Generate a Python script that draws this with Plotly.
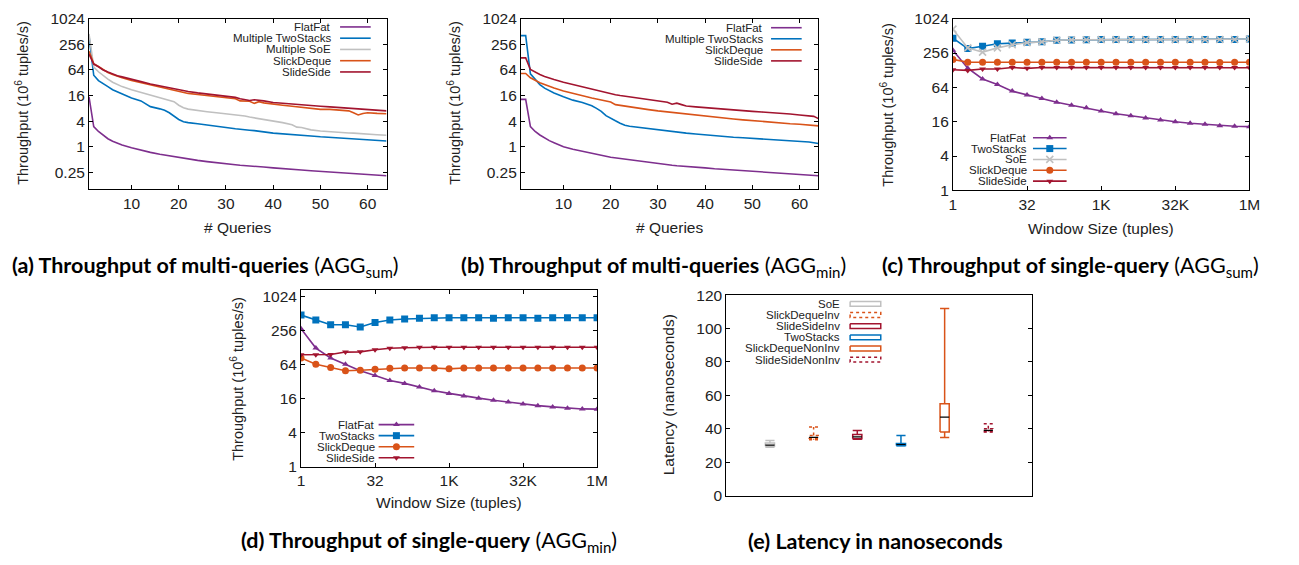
import math
import plotly.graph_objects as go

W, H = 1299, 565

# ---------------- data ----------------
# (a) multi-query throughput, AGG_sum (10^6 tuples/s) vs number of queries
qa = [1, 2, 3, 4, 5, 6, 7, 8, 10, 12, 14, 16, 17, 18, 19, 20, 21, 22, 24, 26, 28, 30, 32, 33, 34, 35,
      36, 37, 38, 40, 42, 44, 45, 46, 48, 50, 52, 54, 56, 57, 58, 59, 60, 62, 64]
a_flatfat = [15, 3.0, 2.3, 1.85, 1.55, 1.35, 1.2, 1.1, 0.95, 0.83, 0.74, 0.67, 0.64, 0.61, 0.58, 0.56, 0.54,
             0.52, 0.48, 0.45, 0.42, 0.40, 0.38, 0.37, 0.36, 0.355, 0.35, 0.34, 0.335, 0.32, 0.305, 0.295,
             0.29, 0.285, 0.275, 0.265, 0.255, 0.247, 0.24, 0.236, 0.232, 0.228, 0.225, 0.218, 0.21]
a_twostacks = [400, 48, 36, 30, 26, 22, 19.5, 17.5, 14, 12, 8.8, 7.8, 7.2, 6.3, 5.3, 4.4, 3.9, 3.7, 3.5,
               3.3, 3.05, 2.85, 2.65, 2.55, 2.5, 2.45, 2.4, 2.35, 2.25, 2.1, 2.0, 1.93, 1.9, 1.86, 1.8,
               1.72, 1.66, 1.6, 1.56, 1.53, 1.5, 1.48, 1.46, 1.41, 1.37]
a_soe = [450, 75, 58, 47, 39, 33, 29, 26, 22, 19, 16.5, 14.5, 13.5, 12.5, 11.5, 9.5, 8.3, 7.7, 7.1, 6.7,
         6.3, 6.0, 5.7, 5.5, 5.3, 5.0, 4.8, 4.5, 4.3, 4.0, 3.7, 3.3, 2.9, 2.85, 2.5, 2.35, 2.25, 2.2,
         2.12, 2.1, 2.05, 2.03, 2.0, 1.93, 1.87]
a_slickdeque = [175, 90, 77, 65, 56, 50, 45, 42, 36, 32, 28, 25, 24, 22.5, 21, 19.5, 19, 18, 17, 16, 15,
                14, 13.5, 12, 11.8, 11.8, 10.5, 11.5, 10.8, 10, 9.5, 9.0, 8.8, 8.5, 8.2, 7.6, 7.6, 7.3,
                7.0, 6.3, 5.6, 6.1, 6.3, 6.1, 6.0]
a_slideside = [150, 88, 76, 64, 57, 51, 47, 44, 38, 34, 30, 27, 26, 24.5, 23, 21.5, 20.5, 20, 18.5, 17.5,
               16.5, 15.5, 14.5, 13.5, 13, 12.3, 12.8, 12.5, 12, 11, 10.5, 10, 9.8, 9.6, 9.3, 9.0, 8.7,
               8.4, 8.2, 8.0, 7.8, 7.6, 7.4, 7.2, 7.0]

# (b) multi-query throughput, AGG_min
qb = [1, 2, 3, 4, 5, 6, 7, 8, 10, 12, 14, 16, 17, 18, 19, 20, 21, 22, 23, 24, 26, 28, 30, 32, 33, 34, 35,
      36, 38, 40, 42, 44, 46, 48, 50, 52, 54, 56, 58, 60, 62, 63, 64]
b_flatfat = [13, 13, 3.0, 2.3, 1.9, 1.6, 1.4, 1.25, 1.0, 0.88, 0.78, 0.7, 0.67, 0.63, 0.6, 0.57, 0.55,
             0.53, 0.51, 0.49, 0.46, 0.43, 0.40, 0.38, 0.37, 0.36, 0.355, 0.35, 0.335, 0.32, 0.305,
             0.295, 0.285, 0.275, 0.265, 0.255, 0.247, 0.24, 0.232, 0.225, 0.218, 0.214, 0.21]
b_twostacks = [410, 410, 52, 38, 29, 24, 21, 18.5, 15, 12.5, 11, 9.2, 8, 6.8, 5.4, 4.6, 4.1, 3.6, 3.2,
               3.05, 2.85, 2.7, 2.55, 2.4, 2.25, 2.2, 2.15, 2.1, 2.0, 1.9, 1.82, 1.75, 1.68, 1.63, 1.58,
               1.53, 1.49, 1.45, 1.41, 1.37, 1.3, 1.25, 1.2]
b_slickdeque = [53, 53, 42, 36, 32, 29, 26, 24, 20.5, 18, 15.5, 14, 13.3, 12.5, 12, 11.3, 9.8, 9.4, 9.0,
                8.7, 8.1, 7.5, 7.0, 6.6, 6.4, 6.2, 6.0, 5.8, 5.5, 5.2, 4.9, 4.7, 4.5, 4.3, 4.1, 3.95,
                3.8, 3.65, 3.5, 3.4, 3.3, 3.2, 3.1]
b_slideside = [123, 123, 66, 57, 50, 45, 41, 38, 33, 29, 26, 22.5, 21.5, 20, 19, 17.5, 16.8, 16, 15.5, 15,
               14, 13, 12, 11.2, 10, 10.6, 9.8, 9.1, 8.7, 8.3, 8.0, 7.7, 7.4, 7.1, 6.8, 6.6, 6.4, 6.2,
               5.9, 5.6, 5.4, 5.2, 4.6]

# (c)/(d) single-query throughput vs window size (tuples)
window = [2 ** k for k in range(21)]
c_flatfat = [287, 139, 90, 72, 55, 47, 41, 35, 31, 28, 24.7, 22, 20.3, 18.5, 17.1, 16, 15, 14.4, 13.6, 13.3, 13.1]
c_twostacks = [466, 306, 336, 373, 382, 395, 402, 430, 435, 438, 440, 440, 440, 440, 440, 440, 440, 440, 442, 442, 450]
c_soe = [671, 315, 266, 315, 357, 390, 402, 428, 435, 438, 440, 440, 440, 440, 440, 440, 440, 440, 442, 442, 450]
c_slickdeque = [198, 176, 176, 176, 176, 176, 176, 176, 176, 176, 176, 176, 176, 176, 176, 176, 176, 176, 175, 176, 176]
c_slideside = [130, 127, 134, 134, 143, 138, 143, 143, 143, 143, 143, 143, 143, 143, 143, 143, 143, 143, 143, 143, 141]

d_flatfat = [278, 126, 84, 65, 50, 41, 33.5, 29.8, 25.8, 22, 19.8, 17.8, 16.3, 15, 13.9, 12.8, 12, 11.4, 10.8, 10.5, 10.4]
d_twostacks = [484, 397, 326, 326, 298, 357, 397, 413, 424, 436, 436, 436, 436, 424, 436, 436, 424, 436, 436, 436, 436]
d_slickdeque = [84, 65, 57, 50, 51, 53, 55, 56, 56, 56, 54, 56, 56, 56, 56, 56, 56, 56, 56, 56, 56]
d_slideside = [96, 96, 97, 107, 108, 118, 125, 128, 130, 130, 130, 130, 130, 130, 130, 130, 130, 130, 130, 130, 130]

# (e) latency box statistics (nanoseconds)
lat_names = ["SoE", "SlickDequeInv", "SlideSideInv", "TwoStacks", "SlickDequeNonInv", "SlideSideNonInv"]
lat_low = [29.0, 33.5, 33.7, 29.8, 34.8, 38.0]
lat_q1 = [29.5, 34.0, 34.0, 30.0, 38.0, 38.3]
lat_med = [30.2, 34.8, 35.2, 30.6, 47.0, 39.0]
lat_q3 = [31.5, 36.0, 36.5, 31.2, 55.0, 40.0]
lat_high = [33.0, 41.0, 39.0, 36.0, 112.0, 43.0]

thr_ticks = [0.25, 1, 4, 16, 64, 256, 1024]
thr_ticktext = ["0.25", "1", "4", "16", "64", "256", "1024"]
win_ticks = [1, 32, 1024, 32768, 1048576]
win_ticktext = ["1", "32", "1K", "32K", "1M"]

# ---------------- styling ----------------
PURPLE = "#7E2F8E"
BLUE = "#0072BD"
GRAY = "#C0C0C0"
ORANGE = "#D95319"
RED = "#A2142F"
FONT = "Liberation Sans"
LW = 1.6


def fx(p):
    return p / W


def fy(p):
    return 1 - p / H


fig = go.Figure()

# ---------------- panels (a) and (b) ----------------
series_a = [("FlatFat", a_flatfat, PURPLE), ("Multiple TwoStacks", a_twostacks, BLUE),
            ("Multiple SoE", a_soe, GRAY), ("SlickDeque", a_slickdeque, ORANGE),
            ("SlideSide", a_slideside, RED)]
for name, vals, col in series_a:
    fig.add_trace(go.Scatter(x=qa, y=vals, mode="lines", name=name, line=dict(color=col, width=LW),
                             xaxis="x", yaxis="y", showlegend=False))

series_b = [("FlatFat", b_flatfat, PURPLE), ("Multiple TwoStacks", b_twostacks, BLUE),
            ("SlickDeque", b_slickdeque, ORANGE), ("SlideSide", b_slideside, RED)]
for name, vals, col in series_b:
    fig.add_trace(go.Scatter(x=qb, y=vals, mode="lines", name=name, line=dict(color=col, width=LW),
                             xaxis="x2", yaxis="y2", showlegend=False))

# ---------------- panels (c) and (d) ----------------
MK = {
    "FlatFat": dict(symbol="triangle-up", size=6, color=PURPLE),
    "TwoStacks": dict(symbol="square", size=7, color=BLUE),
    "SoE": dict(symbol="x-thin", size=7, color=GRAY, line=dict(color=GRAY, width=1.6)),
    "SlickDeque": dict(symbol="circle", size=7, color=ORANGE),
    "SlideSide": dict(symbol="triangle-down", size=6, color=RED),
}
LC = {"FlatFat": PURPLE, "TwoStacks": BLUE, "SoE": GRAY, "SlickDeque": ORANGE, "SlideSide": RED}

series_c = [("FlatFat", c_flatfat), ("TwoStacks", c_twostacks), ("SoE", c_soe),
            ("SlickDeque", c_slickdeque), ("SlideSide", c_slideside)]
for name, vals in series_c:
    fig.add_trace(go.Scatter(x=window, y=vals, mode="lines+markers", name=name,
                             line=dict(color=LC[name], width=LW), marker=MK[name],
                             xaxis="x3", yaxis="y3", showlegend=False))

series_d = [("FlatFat", d_flatfat), ("TwoStacks", d_twostacks),
            ("SlickDeque", d_slickdeque), ("SlideSide", d_slideside)]
for name, vals in series_d:
    fig.add_trace(go.Scatter(x=window, y=vals, mode="lines+markers", name=name,
                             line=dict(color=LC[name], width=LW), marker=MK[name],
                             xaxis="x4", yaxis="y4", showlegend=False))

# ---------------- panel (e): box plots ----------------
BOX_STYLE = {
    "SoE": (GRAY, "solid"),
    "SlickDequeInv": (ORANGE, "dot"),
    "SlideSideInv": (RED, "solid"),
    "TwoStacks": (BLUE, "solid"),
    "SlickDequeNonInv": (ORANGE, "solid"),
    "SlideSideNonInv": (RED, "dot"),
}
HW = 0.105  # half box width in category units
for i, name in enumerate(lat_names):
    p = i + 1
    lo, q1, md, q3, hi = lat_low[i], lat_q1[i], lat_med[i], lat_q3[i], lat_high[i]
    col, dash = BOX_STYLE[name]
    xs = [p - HW, p + HW, p + HW, p - HW, p - HW, None, p, p, None, p, p, None,
          p - HW, p + HW, None, p - HW, p + HW]
    ys = [q1, q1, q3, q3, q1, None, q3, hi, None, q1, lo, None, hi, hi, None, lo, lo]
    fig.add_trace(go.Scatter(x=xs, y=ys, mode="lines", name=name,
                             line=dict(color=col, width=1.5, dash=dash),
                             xaxis="x5", yaxis="y5", showlegend=False))
    fig.add_trace(go.Scatter(x=[p - HW, p + HW], y=[md, md], mode="lines", name=name + " median",
                             line=dict(color="black", width=1.2),
                             xaxis="x5", yaxis="y5", showlegend=False))

# ---------------- legend keys (drawn on a pixel-space overlay axis) ----------------
annotations = []


def key_text(x, y, text):
    annotations.append(dict(x=fx(x), y=fy(y), xref="paper", yref="paper", text=text, showarrow=False,
                            xanchor="right", yanchor="middle",
                            font=dict(family=FONT, size=11.5, color="#222")))


def key_line(x0, x1, y, color, marker=None):
    fig.add_trace(go.Scatter(x=[x0, x1], y=[y, y], mode="lines", line=dict(color=color, width=LW),
                             xaxis="x6", yaxis="y6", showlegend=False, hoverinfo="skip"))
    if marker is not None:
        fig.add_trace(go.Scatter(x=[(x0 + x1) / 2], y=[y], mode="markers", marker=marker,
                                 xaxis="x6", yaxis="y6", showlegend=False, hoverinfo="skip"))


# (a)
for k, (name, _, col) in enumerate(series_a):
    yy = 18.5 + k * 11.6
    key_text(333, yy, name)
    key_line(340, 371, yy, col)
# (b)
for k, (name, _, col) in enumerate(series_b):
    yy = 19.3 + k * 11.4
    key_text(770, yy, name)
    key_line(776, 807, yy, col)
# (c)
for k, (name, _) in enumerate(series_c):
    yy = 132.7 + k * 11.2
    key_text(1037, yy, name)
    key_line(1041, 1075, yy, LC[name], MK[name])
# (d)
for k, (name, _) in enumerate(series_d):
    yy = 428.5 + k * 11.4
    key_text(377, yy, name)
    key_line(379, 415, yy, LC[name], MK[name])
# (e)
for k, name in enumerate(lat_names):
    yy = 304 + k * 11.5
    col, dash = BOX_STYLE[name]
    key_text(848, yy, name)
    fig.add_trace(go.Scatter(x=[856, 887, 887, 856, 856], y=[yy - 2.5, yy - 2.5, yy + 2.5, yy + 2.5, yy - 2.5],
                             mode="lines", line=dict(color=col, width=1.5, dash=dash),
                             xaxis="x6", yaxis="y6", showlegend=False, hoverinfo="skip"))

# ---------------- axis titles and captions ----------------
TITLE_FONT = dict(family=FONT, size=14.5, color="#222")
XTITLE_FONT = dict(family=FONT, size=15.5, color="#222")
YT = "Throughput (10<sup>6</sup> tuples/s)"


def label(x, y, text, angle=0, font=TITLE_FONT):
    annotations.append(dict(x=fx(x), y=fy(y), xref="paper", yref="paper", text=text, showarrow=False,
                            xanchor="center", yanchor="middle", textangle=angle, font=font))


label(18, 97, YT, -90)
label(455, 97, YT, -90)
label(893, 99, YT, -90)
label(235, 381, YT, -90)
label(672, 398, "Latency (nanoseconds)", -90, font=XTITLE_FONT)
label(236, 225, "# Queries", font=XTITLE_FONT)
label(673, 225, "# Queries", font=XTITLE_FONT)
label(1110, 226, "Window Size (tuples)", font=XTITLE_FONT)
label(450, 509, "Window Size (tuples)", font=XTITLE_FONT)

CAP_FONT = dict(family="Lato", size=21.5, color="black")
label(204, 265, "<b>(a) Throughput of multi-queries</b> (AGG<sub>sum</sub>)", font=CAP_FONT)
label(657, 265, "<b>(b) Throughput of multi-queries</b> (AGG<sub>min</sub>)", font=CAP_FONT)
label(1079, 265, "<b>(c) Throughput of single-query</b> (AGG<sub>sum</sub>)", font=CAP_FONT)
label(430, 549, "<b>(d) Throughput of single-query</b> (AGG<sub>min</sub>)", font=CAP_FONT)
label(882, 549, "<b>(e) Latency in nanoseconds</b>", font=CAP_FONT)

# ---------------- axes ----------------
TICKFONT = dict(family=FONT, size=15.5, color="#222")


def axis(**kw):
    base = dict(showline=True, linecolor="black", linewidth=1, mirror="allticks", ticks="inside",
                ticklen=4, tickcolor="black", showgrid=False, zeroline=False, tickfont=TICKFONT)
    base.update(kw)
    return base


log_top_d = math.log10(1024) + 6.7 / 17.5 * math.log10(2)

layout_axes = dict(
    xaxis=axis(domain=[fx(86), fx(387)], range=[1, 64], tickvals=[10, 20, 30, 40, 50, 60], anchor="y"),
    yaxis=axis(domain=[fy(186), fy(10)], type="log", range=[-1, math.log10(1024)],
               tickvals=thr_ticks, ticktext=thr_ticktext, anchor="x"),
    xaxis2=axis(domain=[fx(523), fx(824)], range=[1, 64], tickvals=[10, 20, 30, 40, 50, 60], anchor="y2"),
    yaxis2=axis(domain=[fy(186), fy(10)], type="log", range=[-1, math.log10(1024)],
                tickvals=thr_ticks, ticktext=thr_ticktext, anchor="x2"),
    xaxis3=axis(domain=[fx(960), fx(1260)], type="log", range=[0, math.log10(2 ** 20)],
                tickvals=win_ticks, ticktext=win_ticktext, anchor="y3"),
    yaxis3=axis(domain=[fy(187), fy(10)], type="log", range=[0, math.log10(1024)],
                tickvals=thr_ticks[1:], ticktext=thr_ticktext[1:], anchor="x3"),
    xaxis4=axis(domain=[fx(300.5), fx(600)], type="log", range=[0, math.log10(2 ** 20)],
                tickvals=win_ticks, ticktext=win_ticktext, anchor="y4"),
    yaxis4=axis(domain=[fy(471.7), fy(290)], type="log", range=[0, log_top_d],
                tickvals=thr_ticks[1:], ticktext=thr_ticktext[1:], anchor="x4"),
    xaxis5=axis(domain=[fx(730.7), fx(1040)], range=[0, 7], ticks="", showticklabels=False, anchor="y5"),
    yaxis5=axis(domain=[fy(501.7), fy(295)], range=[0, 120], tickvals=[0, 20, 40, 60, 80, 100, 120], anchor="x5"),
    xaxis6=dict(domain=[0, 1], range=[0, W], visible=False, anchor="y6", fixedrange=True),
    yaxis6=dict(domain=[0, 1], range=[H, 0], visible=False, anchor="x6", fixedrange=True),
)

fig.update_layout(
    width=W, height=H, margin=dict(l=0, r=0, t=0, b=0),
    paper_bgcolor="white", plot_bgcolor="rgba(0,0,0,0)",
    showlegend=False, annotations=annotations,
    **layout_axes,
)

fig.write_html("out.html")
